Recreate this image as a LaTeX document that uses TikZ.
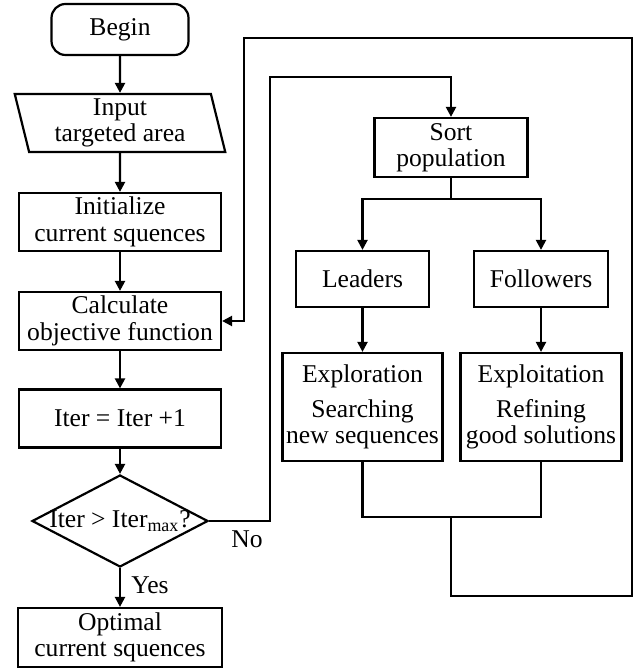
\documentclass[tikz,border=0pt]{standalone}
\usepackage{fontspec}
\setmainfont{Liberation Serif}
\usetikzlibrary{arrows.meta, shapes.geometric}

\begin{document}
\begin{tikzpicture}[
    x=0.5pt, y=-0.5pt,
    >={Triangle[length=5pt,width=5pt]},
    line width=1.1pt,
    font=\fontsize{12.8}{13.2}\selectfont,
    box/.style={draw, align=center, inner sep=0pt, minimum width=101pt, minimum height=29pt},
    term/.style={box, rounded corners=7pt, minimum width=68.5pt, minimum height=25.5pt},
    io/.style={draw, trapezium, trapezium left angle=102, trapezium right angle=78, trapezium stretches=true, align=center, inner sep=0pt, minimum width=106pt, minimum height=29pt},
    dec/.style={draw, diamond, inner sep=0pt, minimum width=88pt, minimum height=46pt},
    lbl/.style={inner sep=0pt},
]
\useasboundingbox (0,0) rectangle (638,672);
% ----- main column
\node[term] (begin) at (120,29.5) {Begin};
\node[io] (input) at (120,123) {Input\\targeted area};
\node[box] (init) at (120,222) {Initialize\\current squences};
\node[box] (calc) at (120,321) {Calculate\\objective function};
\node[box] (iter) at (120,418.5) {Iter = Iter +1};
\node[dec] (check) at (120,521) {\makebox[0pt]{Iter > Iter\textsubscript{max}?}};
\node[box, minimum width=102pt, minimum height=29.5pt] (optimal) at (120,637.5) {Optimal\\current squences};
\node[lbl] (yes) at (150,585) {Yes};
\node[lbl] (no) at (247,539) {No};
% ----- population update
\node[box, minimum width=76.5pt, minimum height=29.5pt] (sort) at (451,147.5) {Sort\\population};
\node[box, minimum width=66.5pt, minimum height=28pt] (leaders) at (362.5,279) {Leaders};
\node[box, minimum width=67pt, minimum height=28pt] (followers) at (541,279) {Followers};
\node[box, minimum width=80pt, minimum height=54pt] (explore) at (362.5,407) {Exploration\\[4pt]Searching\\new sequences};
\node[box, minimum width=80.5pt, minimum height=54pt] (exploit) at (541,407) {Exploitation\\[4pt]Refining\\good solutions};
% ----- turning points
\coordinate (nocol) at (270,77);
\coordinate (split) at (451,199);
\coordinate (merge) at (451,517);
\coordinate (backbot) at (632,596);
\coordinate (backtop) at (244,38);
% ----- connectors
\draw[->] (begin) -- (input);
\draw[->] (input) -- (init);
\draw[->] (init) -- (calc);
\draw[->] (calc) -- (iter);
\draw[->] (iter) -- (check);
\draw[->] (check) -- (optimal);
\draw[->] (check.east) -| (nocol) -| (sort.north);
\draw[->] (sort.south) -- (split) -| (leaders.north);
\draw[->] (split) -| (followers.north);
\draw[->] (leaders) -- (explore);
\draw[->] (followers) -- (exploit);
\draw (explore.south) |- (merge) -| (exploit.south);
\draw[->] (merge) |- (backbot) |- (backtop) |- (calc.east);
\end{tikzpicture}
\end{document}
